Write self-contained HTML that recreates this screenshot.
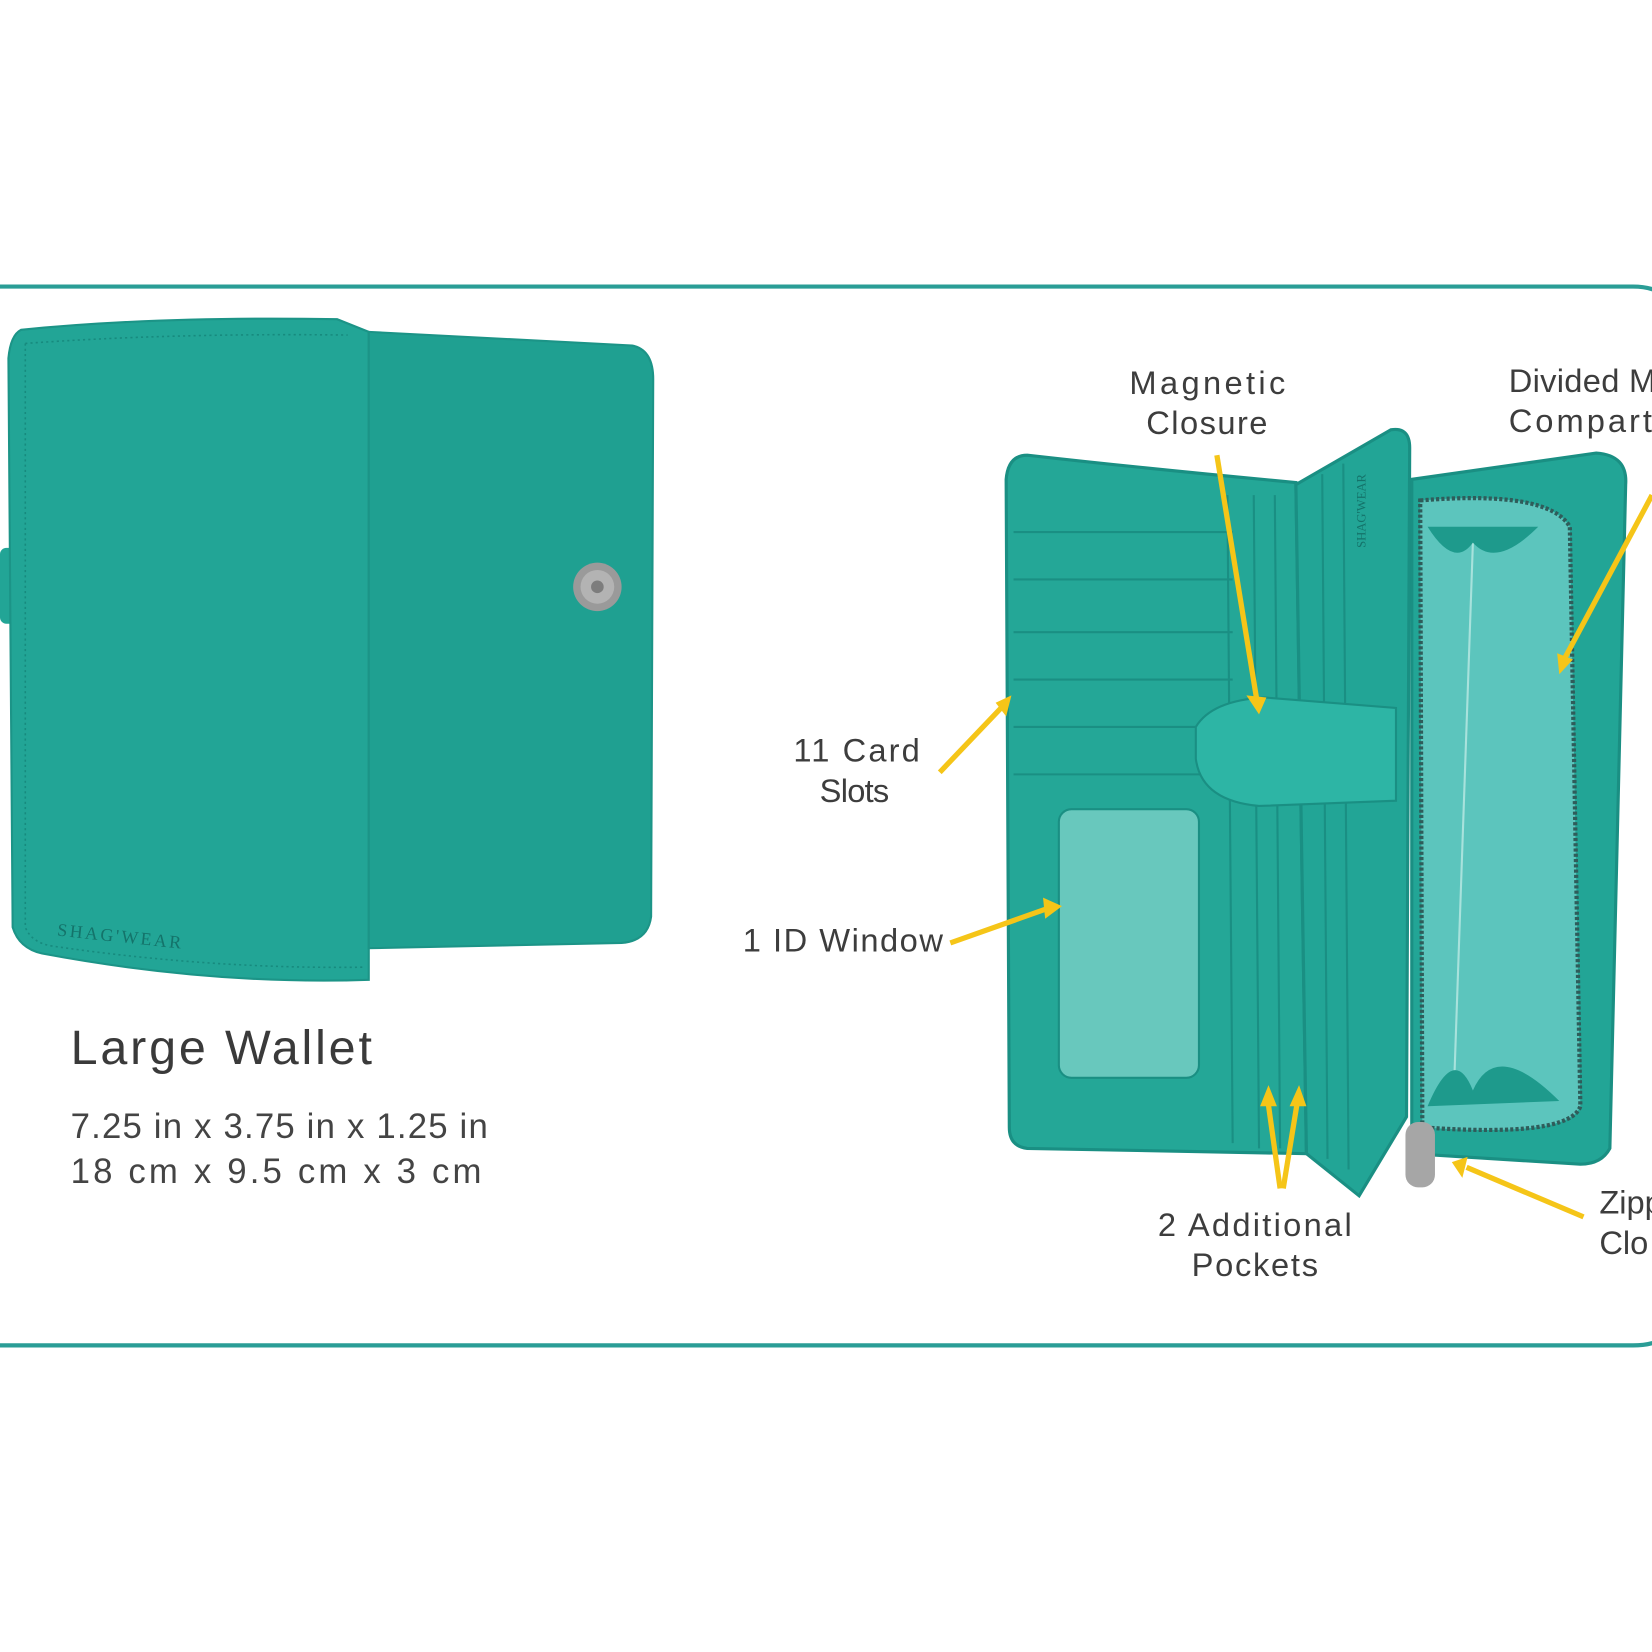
<!DOCTYPE html>
<html><head><meta charset="utf-8"><style>
html,body{margin:0;padding:0;background:#fff;}
svg{display:block;}
text{font-family:"Liberation Sans",sans-serif;fill:#3d3d3d;}
</style></head><body>
<svg width="1652" height="1652" viewBox="0 0 1568 1568" xmlns="http://www.w3.org/2000/svg">
<rect x="0" y="0" width="1568" height="1568" fill="#fff"/>
<path d="M-10 272 H1550 Q1568 272 1580 280 M1580 1270 Q1568 1277 1550 1277 H-10" fill="none" stroke="#2a9d96" stroke-width="4"/>
<!-- closed wallet -->
<rect x="0" y="520" width="18" height="72" rx="6" fill="#22a596"/>
<path d="M20 313 Q150 300 320 303 L350 315 L350 930 Q200 935 40 905 Q18 900 12 880 L8 340 Q10 318 20 313 Z" fill="#22a596" stroke="#1c9487" stroke-width="2"/>
<path d="M350 315 L600 328 Q620 332 620 360 L618 870 Q615 893 590 895 L350 900 Z" fill="#1fa091" stroke="#1c9487" stroke-width="2"/>
<path d="M24 326 Q160 316 330 318 M24 326 L24 880 Q30 895 50 898 Q200 920 345 918" fill="none" stroke="#178a7e" stroke-width="1.5" stroke-dasharray="2 3"/>
<circle cx="567" cy="557" r="23" fill="#9a9a9a"/><circle cx="567" cy="557" r="16" fill="#b3b3b3"/><circle cx="567" cy="557" r="6" fill="#7d7d7d"/>
<text x="54" y="888" font-size="17" textLength="118" style="fill:#14736a;font-family:'Liberation Serif',serif" transform="rotate(6 54 888)">SHAG'WEAR</text>
<text x="67" y="1010" font-size="46" textLength="286" style="fill:#3a3a3a">Large Wallet</text>
<text x="67" y="1080" font-size="33" textLength="396" style="fill:#444">7.25 in x 3.75 in x 1.25 in</text>
<text x="67" y="1123" font-size="33" textLength="390" style="fill:#444">18 cm x  9.5 cm x 3 cm</text>
<!-- open wallet -->
<path d="M975 432 Q1090 445 1230 458 L1240 1095 Q1100 1092 975 1090 Q958 1088 958 1070 L955 455 Q957 432 975 432 Z" fill="#24a797" stroke="#1a8f83" stroke-width="3"/>
<g stroke="#1a8f83" stroke-width="2" fill="none">
<path d="M962 505 H1170 M962 550 H1170 M962 600 H1170 M962 645 H1170 M962 690 H1170 M962 735 H1170"/>
<path d="M1165 470 L1170 1085 M1190 470 L1195 1090 M1210 470 L1215 1090"/>
</g>
<rect x="1005" y="768" width="133" height="255" rx="12" fill="#68c8bd" stroke="#1a8f83" stroke-width="2"/>
<path d="M1230 460 L1320 408 Q1338 405 1338 425 L1335 1060 L1290 1135 L1240 1095 Z" fill="#22a596" stroke="#1a8f83" stroke-width="3"/>
<path d="M1255 450 L1260 1100 M1275 440 L1280 1110" stroke="#1a8f83" stroke-width="2"/>
<text x="1296" y="520" font-size="12" style="fill:#14736a;font-family:'Liberation Serif',serif" transform="rotate(-90 1296 520)">SHAG'WEAR</text>
<path d="M1135 690 Q1150 665 1200 662 L1325 672 L1325 760 L1195 765 Q1140 760 1135 720 Z" fill="#2db5a5" stroke="#1a8f83" stroke-width="2"/>
<path d="M1340 455 L1515 430 Q1545 432 1543 460 L1528 1090 Q1520 1105 1500 1105 L1340 1095 Z" fill="#22a596" stroke="#1a8f83" stroke-width="3"/>
<path d="M1348 475 Q1470 465 1490 500 L1500 1050 Q1490 1080 1350 1070 Z" fill="#5cc5bd" stroke="#2f5c5a" stroke-width="4" stroke-dasharray="3 2"/>
<path d="M1398 515 L1380 1035" stroke="#a8e2dc" stroke-width="2"/>
<path d="M1355 500 Q1380 540 1398 515 Q1420 540 1460 500 Z M1355 1050 Q1380 990 1398 1035 Q1420 985 1480 1045 Z" fill="#1e9a8c"/>
<rect x="1334" y="1065" width="28" height="62" rx="12" fill="#a6a6a6"/>
<!-- arrows -->
<g stroke="#f5c518" stroke-width="5" fill="#f5c518">
<line x1="1155" y1="432" x2="1193" y2="665"/><polygon points="1183,660 1202,662 1195,678" stroke="none"/>
<line x1="892" y1="733" x2="952" y2="670"/><polygon points="945,667 960,660 955,680" stroke="none"/>
<line x1="902" y1="895" x2="995" y2="862"/><polygon points="990,852 1008,860 992,872" stroke="none"/>
<line x1="1568" y1="470" x2="1485" y2="625"/><polygon points="1478,620 1480,640 1493,626" stroke="none"/>
<line x1="1503" y1="1155" x2="1392" y2="1108"/><polygon points="1393,1098 1378,1103 1388,1118" stroke="none"/>
<line x1="1215" y1="1128" x2="1203" y2="1042"/><line x1="1218" y1="1128" x2="1232" y2="1042"/>
<polygon points="1196,1050 1204,1030 1212,1050" stroke="none"/><polygon points="1224,1050 1233,1030 1240,1050" stroke="none"/>
</g>
<text x="1072" y="374" font-size="31" textLength="148">Magnetic</text>
<text x="1088" y="412" font-size="31" textLength="115">Closure</text>
<text x="1432" y="372" font-size="31" textLength="140">Divided M</text>
<text x="1432" y="410" font-size="31" textLength="136">Compart</text>
<text x="753" y="723" font-size="31" textLength="120">11 Card</text>
<text x="778" y="761" font-size="31" textLength="66">Slots</text>
<text x="705" y="903" font-size="31" textLength="190">1 ID Window</text>
<text x="1099" y="1173" font-size="31" textLength="184">2 Additional</text>
<text x="1131" y="1211" font-size="31" textLength="120">Pockets</text>
<text x="1518" y="1152" font-size="31">Zipp</text>
<text x="1518" y="1190" font-size="31">Clo</text>
</svg>
</body></html>
